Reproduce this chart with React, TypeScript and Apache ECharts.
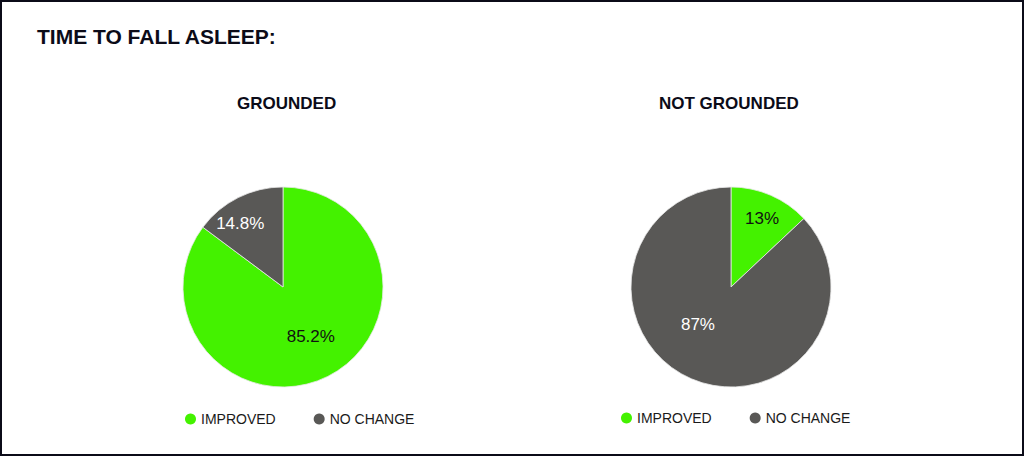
import { useRef, useEffect } from 'react';
import * as echarts from 'echarts';

const groups = ['GROUNDED', 'NOT GROUNDED'];
const outcomes = ['IMPROVED', 'NO CHANGE'];
const groundedValues = [85.2, 14.8];
const notGroundedValues = [13, 87];

const GREEN = '#44F200';
const GRAY = '#595856';
const FONT = '"Liberation Sans", Arial, sans-serif';

// label nudges (Excel "best fit" style placement)
const labelNudge = [
    [[4, 2], [-19, -16]],
    [[10, -20], [-12, -11]]
];

const App = () => {
    const chartRef = useRef<HTMLDivElement>(null);

    useEffect(() => {
        if (!chartRef.current) return;
        const chart = echarts.init(chartRef.current, null, { renderer: 'svg' });

        const makePie = (idx: number, values: number[], cx: number) => ({
            type: 'pie',
            name: groups[idx],
            center: [cx, 287],
            radius: [0, 100],
            startAngle: 90,
            clockwise: true,
            silent: true,
            itemStyle: { borderColor: '#e8e8e8', borderWidth: 0.8 },
            label: {
                show: true,
                position: 'inside',
                formatter: '{c}%',
                fontFamily: FONT,
                fontSize: 17
            },
            labelLine: { show: false },
            labelLayout: (p: any) => ({
                dx: labelNudge[idx][p.dataIndex][0],
                dy: labelNudge[idx][p.dataIndex][1]
            }),
            data: values.map((v, i) => ({
                name: outcomes[i],
                value: v,
                itemStyle: { color: i === 0 ? GREEN : GRAY },
                label: { color: i === 0 ? '#111111' : '#ffffff' }
            }))
        });

        const legendBase = {
            orient: 'horizontal',
            icon: 'circle',
            itemWidth: 11,
            itemHeight: 11,
            itemGap: 38,
            selectedMode: false,
            data: outcomes,
            itemStyle: { borderWidth: 0 },
            textStyle: { fontFamily: FONT, fontSize: 14, color: '#1a1a1a' }
        };

        chart.setOption({
            animation: false,
            backgroundColor: '#ffffff',
            title: [
                {
                    text: 'TIME TO FALL ASLEEP:',
                    left: 32,
                    top: 21,
                    textStyle: { fontFamily: FONT, fontSize: 21, fontWeight: 'bold', color: '#0b0b18' }
                },
                {
                    text: groups[0],
                    left: 232,
                    top: 90,
                    textStyle: { fontFamily: FONT, fontSize: 17, fontWeight: 'bold', color: '#0b0b18' }
                },
                {
                    text: groups[1],
                    left: 654,
                    top: 90,
                    textStyle: { fontFamily: FONT, fontSize: 17, fontWeight: 'bold', color: '#0b0b18' }
                }
            ],
            legend: [
                { ...legendBase, left: 180, top: 407 },
                { ...legendBase, left: 616, top: 406 }
            ],
            graphic: [
                {
                    type: 'rect',
                    silent: true,
                    shape: { x: 1, y: 1, width: 1022, height: 454 },
                    style: { fill: 'none', stroke: '#0b0b18', lineWidth: 2 }
                }
            ],
            series: [
                makePie(0, groundedValues, 283),
                makePie(1, notGroundedValues, 731)
            ]
        });

        return () => {
            chart.dispose();
        };
    }, []);

    return (
        <div
            ref={chartRef}
            style={{ position: 'fixed', left: 0, top: 0, width: 1024, height: 456 }}
        />
    );
};

export default App;
